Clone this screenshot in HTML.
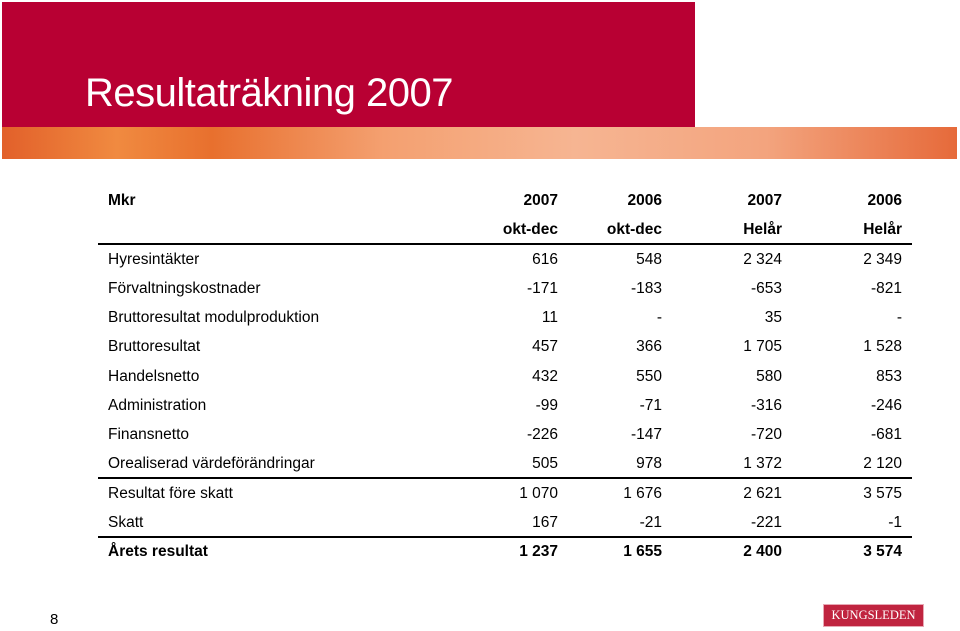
<!DOCTYPE html>
<html><head><meta charset="utf-8"><style>
body{margin:0;width:960px;height:631px;background:#fff;position:relative;overflow:hidden;font-family:"Liberation Sans",Arial,sans-serif}
.abs{position:absolute}
.row{position:absolute;left:0;width:960px;height:20px;font-size:15.5px;color:#000}
.row span{position:absolute;top:0;white-space:nowrap}
.lbl{left:108px}
.c1,.c2,.c3,.c4{text-align:right;width:120px}
.c1{left:438px}.c2{left:542px}.c3{left:662px}.c4{left:782px}
.b{font-weight:bold}
.hl{position:absolute;left:98px;width:814px;height:2px;background:#000}
</style></head><body>
<div class="abs" style="left:2px;top:2px;width:693px;height:125px;background:#b80033"></div>
<div class="abs" style="left:85px;top:71px;font-size:40px;color:#fff;letter-spacing:-0.5px">Resultaträkning 2007</div>
<div class="abs" style="left:2px;top:127px;width:955px;height:32px;background:linear-gradient(90deg,#e2602a 0%,#f08a40 12%,#e8702e 22%,#f4a070 40%,#f6b592 60%,#f3a47e 80%,#e66a3a 100%)"></div>
<div id="tbl"></div>
<div class="hl" style="top:243px"></div>
<div class="hl" style="top:477px"></div>
<div class="hl" style="top:536px"></div>
<div class="abs" style="left:50px;top:611px;font-size:15px">8</div>
<div class="abs" style="left:823px;top:604px;width:101px;height:23px;background:#c0243f;border:1px solid #e8a8b4;box-sizing:border-box;color:#fff;font-family:'Liberation Serif',serif;font-size:12.5px;text-align:center;line-height:21px">KUNGSLEDEN</div>
<script>
const labels=["Mkr","","Hyresintäkter","Förvaltningskostnader","Bruttoresultat modulproduktion","Bruttoresultat","Handelsnetto","Administration","Finansnetto","Orealiserad värdeförändringar","Resultat före skatt","Skatt","Årets resultat"];
const col1=["2007","okt-dec","616","-171","11","457","432","-99","-226","505","1 070","167","1 237"];
const col2=["2006","okt-dec","548","-183","-","366","550","-71","-147","978","1 676","-21","1 655"];
const col3=["2007","Helår","2 324","-653","35","1 705","580","-316","-720","1 372","2 621","-221","2 400"];
const col4=["2006","Helår","2 349","-821","-","1 528","853","-246","-681","2 120","3 575","-1","3 574"];
const tbl=document.getElementById('tbl');
labels.forEach((l,i)=>{
  const r=document.createElement('div');
  r.className='row'+((i<2||i==12)?' b':'');
  r.style.top=(192+i*29.25)+'px';
  
  
  [[l,'lbl'],[col1[i],'c1'],[col2[i],'c2'],[col3[i],'c3'],[col4[i],'c4']].forEach(([t,c])=>{
    const s=document.createElement('span');s.className=c;s.textContent=t;
    
    
    r.appendChild(s);
  });
  tbl.appendChild(r);
});
</script>
</body></html>
